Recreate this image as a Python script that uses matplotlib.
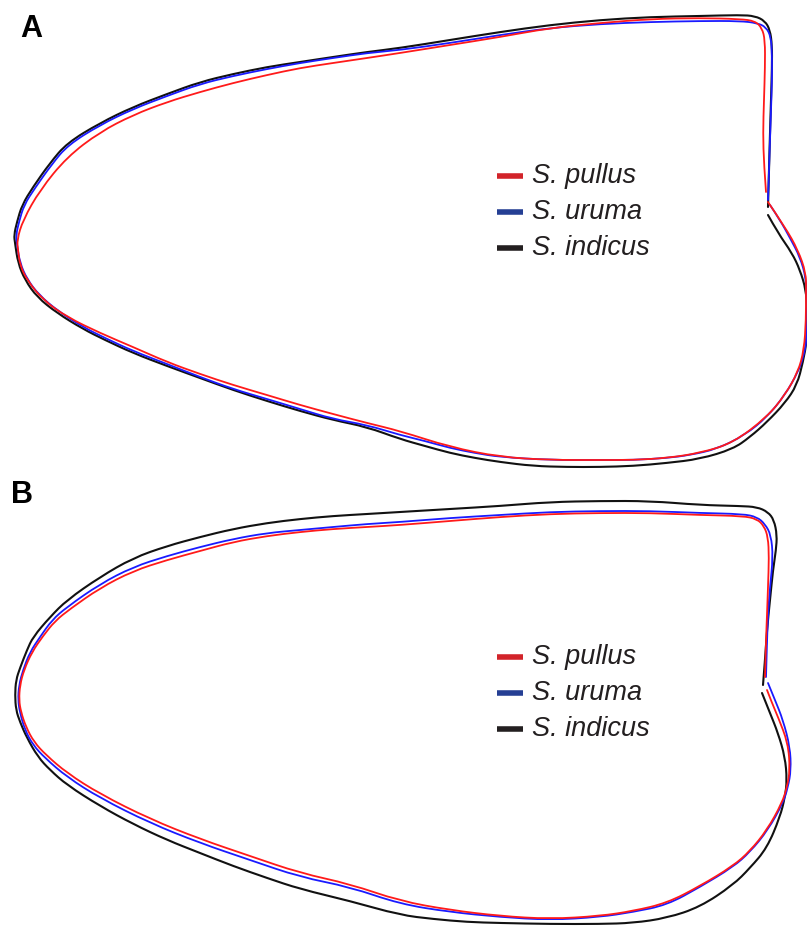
import matplotlib
matplotlib.use("Agg")
import matplotlib.pyplot as plt
from matplotlib.path import Path
from matplotlib.patches import PathPatch
import numpy as np

# ---- data: outline coordinates (image-pixel units, y downward) ----
A_INDICUS = [(768,215),(778,233),(792,253),(800,270),(806,290),(807,310),(807,340),(803,362),(797,385),(785,403),(767,422),(750,437),(733,449),(700,459),(667,463),(633,466),(600,467),(567,467),(533,466),(500,462),(475,458),(450,453),(425,446),(400,439),(367,427),(333,420),(300,411),(267,401),(233,390),(200,378),(167,366),(133,353),(105,340),(83,329),(57,313),(37,297),(25,280),(18,263),(15,243),(14,235),(17,222),(22,205),(33,187),(50,163),(67,143),(100,123),(133,107),(167,94),(200,82),(233,74),(267,67),(300,62),(333,57),(367,52),(400,48),(450,40),(500,32),(550,25),(600,20),(650,17),(700,16),(740,15),(755,16),(765,21),(770,30),(772,45),(772,67),(771,100),(770,133),(769,170),(768,207)]
A_URUMA = [(770,205),(780,220),(790,238),(800,257),(806,278),(807,300),(807,340),(803,358),(798,372),(785,395),(767,417),(745,435),(717,449),(690,455),(667,458),(633,460),(600,460),(550,460),(500,457),(475,453),(450,448),(425,441),(400,435),(367,425),(333,419),(300,409),(267,399),(233,389),(200,377),(167,364),(133,351),(105,338),(83,327),(58,311),(39,295),(27,279),(20,263),(17,245),(16,235),(19,222),(24,205),(35,188),(52,164),(68,145),(100,125),(133,109),(167,96),(200,84),(233,76),(267,69),(300,63),(333,58),(367,53),(400,50),(450,43),(500,35),(550,28),(600,24),(650,22),(700,21),(740,21),(757,23),(766,27),(771,37),(772,55),(772,80),(771,110),(770,140),(769,170),(768,200)]
A_PULLUS = [(768,202),(785,227),(798,250),(806,273),(806,290),(806,320),(804,350),(798,372),(785,395),(767,417),(733,443),(700,453),(667,458),(633,460),(600,460),(550,460),(500,457),(450,447),(400,431),(367,423),(333,414),(300,405),(267,395),(233,385),(200,374),(167,362),(133,347),(100,333),(67,317),(43,300),(27,280),(20,265),(18,250),(17,240),(23,220),(40,190),(67,157),(100,132),(133,115),(167,102),(200,92),(233,83),(267,75),(300,68),(333,63),(367,58),(400,53),(450,45),(500,37),(550,28),(600,23),(650,19),(700,18),(740,19),(755,21),(762,28),(765,40),(765,67),(764,100),(763,133),(764,165),(766,192)]

B_INDICUS = [(762,693),(770,713),(778,733),(785,757),(787,780),(785,797),(780,817),(767,848),(750,868),(733,885),(700,907),(667,918),(633,923),(600,924),(550,924),(500,923),(467,922),(433,919),(400,915),(350,901),(300,889),(267,878),(233,866),(200,853),(167,840),(133,824),(100,806),(67,785),(50,770),(38,757),(27,738),(20,722),(16,710),(15,695),(16,680),(20,668),(27,650),(33,637),(50,617),(67,600),(100,577),(133,558),(167,546),(200,537),(233,529),(267,523),(300,519),(333,516),(367,514),(400,512),(450,509),(500,506),(550,502),(600,501),(650,501),(700,505),(740,506),(757,507),(768,512),(774,520),(777,535),(776,550),(773,570),(770,600),(767,630),(765,660),(763,685)]
B_URUMA = [(768,683),(775,700),(783,720),(790,747),(791,770),(788,787),(783,803),(768,830),(750,852),(733,867),(700,887),(667,905),(633,912),(600,917),(550,920),(500,917),(450,912),(400,904),(350,887),(300,877),(250,860),(200,843),(150,823),(100,798),(67,777),(45,758),(33,745),(25,730),(20,713),(18,700),(19,685),(23,670),(30,652),(40,637),(52,620),(67,607),(100,584),(133,567),(167,556),(200,547),(233,539),(267,533),(300,530),(333,527),(367,524),(400,522),(450,518),(500,515),(550,512),(600,511),(650,511),(700,513),(743,514),(757,517),(765,524),(771,535),(773,557),(770,587),(768,615),(767,640),(766,677)]
B_PULLUS = [(767,690),(772,703),(778,717),(788,743),(790,770),(787,787),(782,803),(767,830),(750,851),(733,866),(700,886),(667,903),(633,911),(600,916),(550,919),(500,916),(450,910),(400,901),(350,884),(300,873),(250,856),(200,839),(150,819),(100,794),(67,773),(46,755),(34,742),(26,727),(21,712),(19,700),(20,685),(24,670),(32,652),(43,636),(55,621),(70,609),(100,588),(133,571),(167,560),(200,551),(233,542),(267,536),(300,532),(333,529),(367,527),(400,525),(450,521),(500,517),(550,514),(600,513),(650,513),(700,515),(743,516),(757,519),(764,526),(768,537),(769,557),(768,587),(767,615),(766,640),(765,677)]

SPECIES = ["S. pullus", "S. uruma", "S. indicus"]
OUTLINE_COLORS = {"S. pullus": "#ff1a1a", "S. uruma": "#1a1aff", "S. indicus": "#111111"}
LEGEND_COLORS = {"S. pullus": "#d2232a", "S. uruma": "#253f94", "S. indicus": "#231f20"}
PANELS = {
    "A": {"S. indicus": A_INDICUS, "S. uruma": A_URUMA, "S. pullus": A_PULLUS},
    "B": {"S. indicus": B_INDICUS, "S. uruma": B_URUMA, "S. pullus": B_PULLUS},
}


def smooth_path(points):
    """Quadratic-Bezier path that uses the read outline points as control points."""
    p = np.asarray(points, dtype=float)
    verts = [p[0]]
    codes = [Path.MOVETO]
    for i in range(1, len(p) - 1):
        end = p[i + 1] if i == len(p) - 2 else (p[i] + p[i + 1]) / 2.0
        verts += [p[i], end]
        codes += [Path.CURVE3, Path.CURVE3]
    return Path(verts, codes)


# ---- layout ----
fig = plt.figure(figsize=(8.07, 9.26), dpi=100)
ax = fig.add_axes([0, 0, 1, 1])
ax.set_xlim(0, 807)
ax.set_ylim(926, 0)
ax.axis("off")

draw_order = ["S. indicus", "S. uruma", "S. pullus"]
panel_label_pos = {"A": (20, 29), "B": (11, 495)}
legend_pos = {"A": (497, 176, 36), "B": (497, 657, 36)}

for pname, outlines in PANELS.items():
    for sp in draw_order:
        patch = PathPatch(smooth_path(outlines[sp]), facecolor="none",
                          edgecolor=OUTLINE_COLORS[sp],
                          lw=1.5 if sp == "S. indicus" else 1.3,
                          capstyle="round", joinstyle="round")
        ax.add_patch(patch)
    lx, ly = panel_label_pos[pname]
    ax.text(lx, ly, pname, fontsize=22, fontweight="bold", family="Liberation Sans",
            ha="left", va="center", color="black")
    x0, y0, dy = legend_pos[pname]
    for i, sp in enumerate(SPECIES):
        yy = y0 + i * dy
        ax.plot([x0, x0 + 26], [yy, yy], color=LEGEND_COLORS[sp], lw=4.0,
                solid_capstyle="butt")
        ax.text(x0 + 35, yy, sp, fontsize=19.5, style="italic",
                family="Liberation Sans", ha="left", va="center", color="#231f20")

fig.savefig("out.png", dpi=100)
